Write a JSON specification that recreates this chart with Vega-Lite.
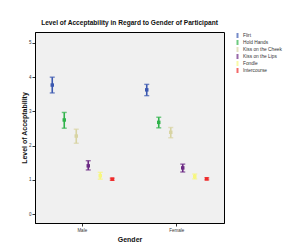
{
  "$schema": "https://vega.github.io/schema/vega-lite/v6.json",
  "autosize": "none",
  "padding": {"left": 35, "top": 32, "right": 62, "bottom": 26},
  "width": 189,
  "height": 191,
  "background": "white",
  "title": {
    "text": "Level of Acceptability in Regard to Gender of Participant",
    "fontSize": 6.6,
    "font": "Liberation Sans",
    "fontWeight": "bold",
    "color": "#111",
    "offset": 5,
    "anchor": "middle"
  },
  "data": {
    "values": [
      {"gender": "Male", "activity": "Flirt", "mean": 3.77, "lo": 3.54, "hi": 4.0},
      {"gender": "Male", "activity": "Hold Hands", "mean": 2.75, "lo": 2.51, "hi": 2.97},
      {"gender": "Male", "activity": "Kiss on the Cheek", "mean": 2.28, "lo": 2.07, "hi": 2.48},
      {"gender": "Male", "activity": "Kiss on the Lips", "mean": 1.41, "lo": 1.29, "hi": 1.56},
      {"gender": "Male", "activity": "Fondle", "mean": 1.12, "lo": 1.02, "hi": 1.22},
      {"gender": "Male", "activity": "Intercourse", "mean": 1.02, "lo": 0.99, "hi": 1.05},
      {"gender": "Female", "activity": "Flirt", "mean": 3.63, "lo": 3.46, "hi": 3.79},
      {"gender": "Female", "activity": "Hold Hands", "mean": 2.68, "lo": 2.52, "hi": 2.83},
      {"gender": "Female", "activity": "Kiss on the Cheek", "mean": 2.39, "lo": 2.23, "hi": 2.53},
      {"gender": "Female", "activity": "Kiss on the Lips", "mean": 1.35, "lo": 1.23, "hi": 1.46},
      {"gender": "Female", "activity": "Fondle", "mean": 1.1, "lo": 1.03, "hi": 1.17},
      {"gender": "Female", "activity": "Intercourse", "mean": 1.03, "lo": 1.0, "hi": 1.06}
    ]
  },
  "encoding": {
    "x": {
      "field": "gender", "type": "nominal", "sort": ["Male", "Female"],
      "scale": {"paddingInner": 0, "paddingOuter": 0},
      "axis": {"title": "Gender", "labelAngle": 0}
    },
    "xOffset": {
      "field": "activity", "type": "nominal",
      "sort": ["Flirt", "Hold Hands", "Kiss on the Cheek", "Kiss on the Lips", "Fondle", "Intercourse"],
      "scale": {"paddingInner": 0, "paddingOuter": 0.9375}
    },
    "color": {
      "field": "activity", "type": "nominal",
      "sort": ["Flirt", "Hold Hands", "Kiss on the Cheek", "Kiss on the Lips", "Fondle", "Intercourse"],
      "scale": {
        "domain": ["Flirt", "Hold Hands", "Kiss on the Cheek", "Kiss on the Lips", "Fondle", "Intercourse"],
        "range": ["#3b58b0", "#2fb34a", "#d8d4a3", "#6c2a84", "#f7f77e", "#ee2a2a"]
      },
      "legend": {"title": null}
    }
  },
  "layer": [
    {
      "mark": {"type": "rule", "strokeWidth": 1.6},
      "encoding": {
        "y": {
          "field": "lo", "type": "quantitative",
          "scale": {"domain": [-0.26, 5.32], "nice": false, "zero": false},
          "axis": {"title": "Level of Acceptability", "values": [0, 1, 2, 3, 4, 5], "labelOverlap": false, "titlePadding": 1}
        },
        "y2": {"field": "hi"}
      }
    },
    {
      "mark": {"type": "tick", "orient": "horizontal", "size": 5, "thickness": 1.4},
      "encoding": {
        "y": {
          "field": "lo", "type": "quantitative",
          "scale": {"domain": [-0.26, 5.32], "nice": false, "zero": false},
          "axis": {"title": "Level of Acceptability", "values": [0, 1, 2, 3, 4, 5], "labelOverlap": false, "titlePadding": 1}
        }
      }
    },
    {
      "mark": {"type": "tick", "orient": "horizontal", "size": 5, "thickness": 1.4},
      "encoding": {
        "y": {
          "field": "hi", "type": "quantitative",
          "scale": {"domain": [-0.26, 5.32], "nice": false, "zero": false},
          "axis": {"title": "Level of Acceptability", "values": [0, 1, 2, 3, 4, 5], "labelOverlap": false, "titlePadding": 1}
        }
      }
    },
    {
      "mark": {"type": "point", "filled": true, "shape": "square", "size": 12, "opacity": 1},
      "encoding": {
        "y": {
          "field": "mean", "type": "quantitative",
          "scale": {"domain": [-0.26, 5.32], "nice": false, "zero": false},
          "axis": {"title": "Level of Acceptability", "values": [0, 1, 2, 3, 4, 5], "labelOverlap": false, "titlePadding": 1}
        }
      }
    }
  ],
  "config": {
    "view": {"fill": "#f0f0f0", "stroke": "#000", "strokeWidth": 1},
    "font": "Liberation Sans",
    "axis": {
      "grid": false,
      "domainColor": "#000",
      "domainWidth": 1,
      "tickColor": "#333",
      "tickSize": 3,
      "labelFontSize": 4.5,
      "labelColor": "#333",
      "labelPadding": 1,
      "labelOverlap": false,
      "titleFontSize": 7,
      "titleFontWeight": "bold",
      "titleColor": "#111",
      "titlePadding": 3
    },
    "axisX": {"titlePadding": 4},
    "legend": {
      "offset": 10,
      "padding": 1,
      "labelFontSize": 4.8,
      "labelColor": "#333",
      "rowPadding": 1,
      "symbolType": "M-0.4,-1L0.4,-1L0.4,1L-0.4,1Z",
      "symbolSize": 25,
      "symbolStrokeWidth": 0,
      "labelOffset": 3
    }
  }
}
